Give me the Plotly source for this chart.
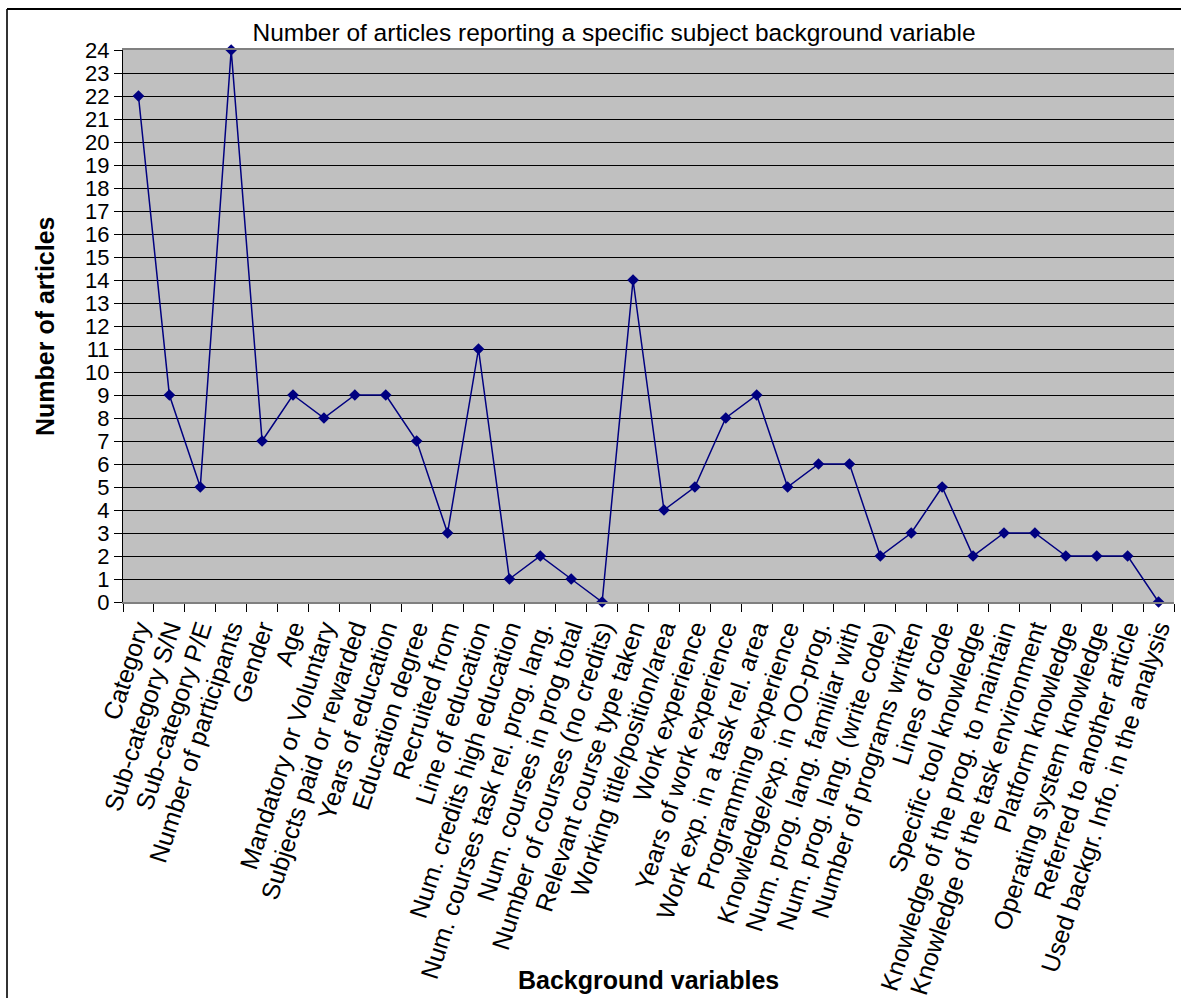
import plotly.graph_objects as go

variables = [
    "Category", "Sub-category S/N", "Sub-category P/E", "Number of participants",
    "Gender", "Age", "Mandatory or Voluntary", "Subjects paid or rewarded",
    "Years of education", "Education degree", "Recruited from", "Line of education",
    "Num. credits high education", "Num. courses task rel. prog. lang.",
    "Num. courses in prog total", "Number of courses (no credits)",
    "Relevant course type taken", "Working title/position/area", "Work experience",
    "Years of work experience", "Work exp. in a task rel. area",
    "Programming experience", "Knowledge/exp. in OO-prog.",
    "Num. prog. lang. familiar with", "Num. prog. lang. (write code)",
    "Number of programs written", "Lines of code", "Specific tool knowledge",
    "Knowledge of the prog. to maintain", "Knowledge of the task environment",
    "Platform knowledge", "Operating system knowledge",
    "Referred to another article", "Used backgr. Info. in the analysis",
]
articles = [22, 9, 5, 24, 7, 9, 8, 9, 9, 7, 3, 11, 1, 2, 1, 0, 14, 4, 5, 8, 9,
            5, 6, 6, 2, 3, 5, 2, 3, 3, 2, 2, 2, 0]
y_ticks = list(range(0, 25))

FONT = "Liberation Sans, Arial, sans-serif"
NAVY = "#000080"

fig = go.Figure(
    go.Scatter(
        x=variables,
        y=articles,
        mode="lines+markers",
        line=dict(color=NAVY, width=1.5),
        marker=dict(symbol="diamond", size=9, color=NAVY),
        cliponaxis=False,
    )
)

fig.update_layout(
    width=1181,
    height=998,
    margin=dict(l=123, r=7, t=50, b=396),
    paper_bgcolor="white",
    plot_bgcolor="#C0C0C0",
    showlegend=False,
    font=dict(family=FONT, color="black"),
    title=dict(
        text="Number of articles reporting a specific subject background variable",
        x=614 / 1181,
        xanchor="center",
        y=1 - 32 / 998,
        yanchor="middle",
        font=dict(size=24.5, family=FONT, color="black"),
    ),
)

fig.update_xaxes(
    type="category",
    tickangle=-72,
    tickfont=dict(size=25, family=FONT, color="black"),
    ticks="outside",
    tickson="boundaries",
    ticklen=8,
    tickcolor="black",
    showline=True,
    linecolor="#808080",
    linewidth=2,
    mirror=True,
    showgrid=False,
    range=[-0.5, len(variables) - 0.5],
    automargin=False,
)

fig.update_yaxes(
    range=[0, 24],
    tickvals=y_ticks,
    tickfont=dict(size=22, family=FONT, color="black"),
    ticks="outside",
    ticklen=8,
    tickcolor="black",
    showline=True,
    linecolor="black",
    linewidth=1,
    showgrid=True,
    gridcolor="black",
    gridwidth=1,
    zeroline=False,
    automargin=False,
)

# Axis titles
fig.add_annotation(text="<b>Background variables</b>", xref="paper", yref="paper",
                   x=(648 - 123) / 1051, y=-(980 - 602) / 552,
                   xanchor="center", yanchor="middle", showarrow=False,
                   font=dict(size=25, family=FONT, color="black"))
fig.add_annotation(text="<b>Number of articles</b>", xref="paper", yref="paper",
                   x=(45 - 123) / 1051, y=(602 - 326) / 552, textangle=-90,
                   xanchor="center", yanchor="middle", showarrow=False,
                   font=dict(size=25, family=FONT, color="black"))

# Outer frame of the chart (left and top edges)
fig.add_shape(type="line", xref="paper", yref="paper",
              x0=(7 - 123) / 1051, x1=(7 - 123) / 1051,
              y0=1 + (50 - 9) / 552, y1=-(998 - 602) / 552 - 0.01,
              line=dict(color="#333333", width=2))
fig.add_shape(type="line", xref="paper", yref="paper",
              x0=(7 - 123) / 1051, x1=(1181 - 123) / 1051,
              y0=1 + (50 - 9) / 552, y1=1 + (50 - 9) / 552,
              line=dict(color="black", width=2))

fig.write_html("out.html")
